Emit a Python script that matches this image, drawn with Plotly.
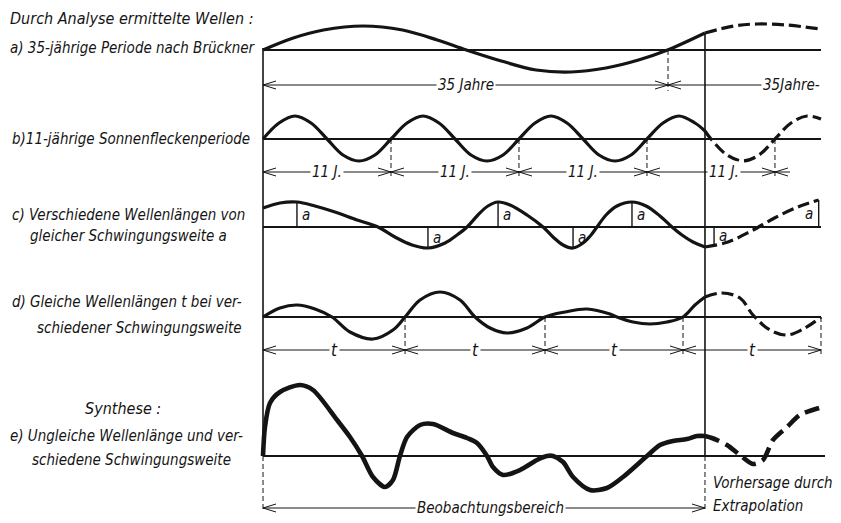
import numpy as np
import plotly.graph_objects as go

# Horizontal positions are years counted from the start of the record;
# wave values are amplitudes above each row's zero line.

# a) 35-year Brückner period
a_years = [0, 2.6, 5.2, 8.6, 12.0, 15.0, 17.5, 20.5, 23.5, 26.5, 29.5, 32.3, 34.8, 38.02]
a_amp = [0, 12, 20, 24, 20, 10, 0, -11, -20, -22, -18, -10, 0, 17]
a_fc_years = [38.02, 40.5, 42.5, 45.0, 48.0]
a_fc_amp = [17, 24, 26, 25, 21]

# b) 11-year sunspot period
b_years = [0, 1.38, 2.75, 4.13, 5.51, 6.88, 8.26, 9.63, 11.01, 12.39, 13.76, 15.14,
           16.52, 17.89, 19.27, 20.65, 22.02, 23.40, 24.77, 26.15, 27.53, 28.90,
           30.28, 31.66, 33.03, 34.41, 35.78, 37.16, 38.02]
b_amp = [0, 16, 23, 16, 0, -16, -22, -16, 0, 16, 23, 16,
         0, -16, -22, -16, 0, 16, 23, 16, 0, -16,
         -22, -16, 0, 16, 23, 16, 8]
b_fc_years = [38.02, 38.54, 39.91, 41.29, 42.67, 44.04, 45.42, 46.80, 48.0]
b_fc_amp = [8, 0, -16, -22, -16, 0, 16, 23, 20]

# c) different wave lengths, equal amplitude a
c_years = [0, 1.46, 2.92, 4.47, 6.19, 8.09, 9.89, 11.35, 12.82, 14.19, 15.66, 16.69,
           17.55, 18.49, 19.35, 20.22, 21.25, 22.71, 24.09, 24.95, 25.81, 26.67,
           27.53, 28.22, 28.73, 29.51, 30.45, 31.74, 32.95, 34.15, 35.18, 36.04,
           36.99, 38.02]
c_amp = [19, 24, 25, 21, 15, 7, 0, -10, -18, -21, -16, -8,
         0, 12, 21, 25, 22, 12, 0, -10, -18, -21,
         -16, -8, 0, 12, 21, 25, 21, 11, 0, -8,
         -15, -20]
c_fc_years = [38.02, 40.0, 42.0, 44.0, 46.0, 47.8]
c_fc_amp = [-20, -15, -4, 9, 20, 27]
c_mark_years = [2.92, 14.19, 20.22, 26.67, 31.74, 38.8, 47.8]

# d) equal wave lengths t, different amplitudes
d_years = [0, 1.46, 2.92, 4.47, 5.94, 7.48, 9.46, 11.18, 12.22, 13.51, 15.23, 16.95,
           18.24, 19.53, 20.99, 22.71, 24.26, 25.98, 27.87, 29.85, 30.45, 31.83,
           33.29, 34.75, 36.13, 37.16, 38.02]
d_amp = [0, 9, 12, 8, 0, -15, -22, -13, 0, 17, 25, 17,
         0, -11, -16, -11, 0, 5, 8, 3, 0, -5,
         -7, -5, 0, 12, 20]
d_fc_years = [38.02, 39.48, 41.03, 42.15, 43.61, 45.08, 46.62, 48.0]
d_fc_amp = [20, 24, 19, 2, -13, -18, -11, 0]

# e) synthesis
e_years = [0, 0.17, 0.60, 1.46, 3.18, 4.30, 6.37, 7.48, 8.52, 9.46, 10.49, 11.18,
           11.78, 12.39, 13.51, 14.62, 16.34, 17.55, 18.41, 19.27, 19.78, 20.65,
           22.11, 23.57, 24.43, 24.95, 25.81, 26.67, 28.13, 29.59, 30.97, 33.03,
           34.15, 35.27, 36.47, 37.33, 38.02]
e_amp = [0, 29, 53, 64, 71, 66, 36, 19, 0, -21, -31, -24,
         0, 19, 31, 32, 23, 18, 13, 0, -11, -19,
         -14, -4, 0, 0, -6, -21, -34, -32, -21, 0,
         11, 15, 17, 20, 20]
e_fc_years = [38.02, 38.62, 39.91, 41.03, 42.15, 43.01, 43.87, 45.08, 46.19, 48.17]
e_fc_amp = [20, 18, 11, 1, -8, -4, 16, 29, 41, 49]

# span divisions
a_marks = [0, 34.84, 48.0]
b_marks = [0, 11.01, 22.02, 33.03, 44.04]
d_marks = [0, 12.22, 24.26, 36.13, 48.0]
obs_end = 38.02
record_end = 48.0

# ---- drawing geometry (pixels on the vertical axis) ----
W, H = 841, 523
X0_PX, PX_PER_YEAR = 263, 11.625
ZERO = {"a": 50, "b": 139, "c": 227, "d": 317, "e": 456}
DIM_Y = {"a": 85, "b": 172, "d": 350, "e": 508}
INK = "#141414"
FONT = "Liberation Sans Narrow, DejaVu Sans Condensed, Arial Narrow, sans-serif"


def yr(px):
    return (px - X0_PX) / PX_PER_YEAR


fig = go.Figure()


def wave(years, amp, row, width, dash=None, smooth=1.0):
    fig.add_trace(go.Scatter(
        x=years, y=[ZERO[row] - v for v in amp], mode="lines",
        line=dict(color=INK, width=width, shape="spline", smoothing=smooth, dash=dash),
        hoverinfo="skip", showlegend=False))


def seg(x0, y0, x1, y1, width=1.0, dash=None):
    fig.add_shape(type="line", xref="x", yref="y", x0=x0, y0=y0, x1=x1, y1=y1,
                  line=dict(color=INK, width=width, dash=dash))


def arrow(tip, y, direction):
    # open chevron arrowhead; direction -1 points left, +1 points right
    L, h = 13 / PX_PER_YEAR, 4
    back = tip - direction * L
    fig.add_shape(type="path", xref="x", yref="y",
                  path=f"M {back},{y - h} L {tip},{y} L {back},{y + h}",
                  line=dict(color=INK, width=1.0))


def label(text, x, y, size=15, anchor="center", bg="white", xref="x"):
    fig.add_annotation(text=text, x=x, y=y, xref=xref, yref="y", showarrow=False,
                       xanchor=anchor, yanchor="middle", bgcolor=bg, borderpad=1,
                       font=dict(family=FONT, size=size, color=INK, style="italic"))


# zero lines of every row
for row in "abcd":
    seg(0, ZERO[row], record_end, ZERO[row], width=1.8)
seg(0, ZERO["e"], yr(825), ZERO["e"], width=1.8)

# frame: start of record and end of the observation window
seg(0, 48, 0, ZERO["e"], width=1.6)
seg(0, ZERO["e"], 0, 512, width=1.0, dash="5px,3px")
seg(obs_end, 33, obs_end, ZERO["e"], width=1.6)
seg(obs_end, ZERO["e"], obs_end, 512, width=1.0, dash="5px,3px")

# waves: observed (solid) and extrapolated (dashed)
wave(a_years, a_amp, "a", 3.2)
wave(a_fc_years, a_fc_amp, "a", 3.2, "12px,5px")
wave(b_years, b_amp, "b", 3.2)
wave(b_fc_years, b_fc_amp, "b", 3.2, "12px,5px")
wave(c_years, c_amp, "c", 3.2)
wave(c_fc_years, c_fc_amp, "c", 3.2, "12px,5px")
wave(d_years, d_amp, "d", 3.2)
wave(d_fc_years, d_fc_amp, "d", 3.2, "12px,5px")
wave(e_years, e_amp, "e", 4.6, smooth=0.8)
wave(e_fc_years, e_fc_amp, "e", 4.6, "15px,7px", smooth=0.8)

# amplitude markers "a" on row c
c_all_years = c_years + c_fc_years[1:]
c_all_amp = c_amp + c_fc_amp[1:]
for i, m in enumerate(c_mark_years):
    v = float(np.interp(m, c_all_years, c_all_amp))
    seg(m, ZERO["c"], m, ZERO["c"] - v, width=1.4)
    mid = ZERO["c"] - v / 2
    if i == len(c_mark_years) - 1:
        label("a", m - 10 / PX_PER_YEAR, mid, size=15, bg="rgba(0,0,0,0)")
    else:
        label("a", m + 9 / PX_PER_YEAR, mid, size=15, bg="rgba(0,0,0,0)")

# extension lines for the dimension spans
seg(a_marks[1], ZERO["a"], a_marks[1], DIM_Y["a"] + 6, width=1.0, dash="5px,3px")
for m in b_marks[1:]:
    seg(m, ZERO["b"], m, DIM_Y["b"] + 6, width=1.0, dash="5px,3px")
for m in d_marks[1:]:
    seg(m, ZERO["d"], m, DIM_Y["d"] + 6, width=1.0, dash="5px,3px")


def span(x0, x1, y, text=None, at=None, left=True, right=True, size=15):
    seg(x0, y, x1, y, width=1.0)
    if left:
        arrow(x0, y, -1)
    if right:
        arrow(x1, y, 1)
    if text:
        label(text, (x0 + x1) / 2 if at is None else at, y, size=size)


span(a_marks[0], a_marks[1], DIM_Y["a"], "35 Jahre")
span(a_marks[1], a_marks[2], DIM_Y["a"], right=False)
label("35Jahre-", yr(822), DIM_Y["a"], anchor="right")

b_label_at = [None, None, None, yr(724)]
for k in range(len(b_marks) - 1):
    span(b_marks[k], b_marks[k + 1], DIM_Y["b"], "11 J.", at=b_label_at[k])
span(b_marks[-1], yr(790), DIM_Y["b"], right=False)

for k in range(len(d_marks) - 1):
    span(d_marks[k], d_marks[k + 1], DIM_Y["d"], "t", size=17)

span(0, obs_end, DIM_Y["e"], "Beobachtungsbereich", at=yr(490))

# row captions on the left
captions = [
    ("Durch Analyse ermittelte Wellen :", 8, 18, 16),
    ("a) 35-jährige Periode nach Brückner", 8, 48, 15),
    ("b)11-jährige Sonnenfleckenperiode", 10, 139, 15),
    ("c) Verschiedene Wellenlängen von", 10, 215, 15),
    ("gleicher Schwingungsweite a", 28, 236, 15),
    ("d) Gleiche Wellenlängen t bei ver-", 10, 302, 15),
    ("schiedener Schwingungsweite", 35, 328, 15),
    ("Synthese :", 83, 408, 16),
    ("e) Ungleiche Wellenlänge und ver-", 8, 436, 15),
    ("schiedene Schwingungsweite", 30, 460, 15),
]
for text, xp, yp, fs in captions:
    label(text, xp / W, yp, size=fs, anchor="left", bg="rgba(0,0,0,0)", xref="paper")

label("Vorhersage durch", yr(711), 483, size=15, anchor="left", bg="rgba(0,0,0,0)")
label("Extrapolation", yr(711), 506, size=15, anchor="left", bg="rgba(0,0,0,0)")

fig.update_layout(
    width=W, height=H, margin=dict(l=0, r=0, t=0, b=0),
    paper_bgcolor="white", plot_bgcolor="white",
    xaxis=dict(range=[yr(0), yr(W)], visible=False, fixedrange=True),
    yaxis=dict(range=[H, 0], visible=False, fixedrange=True),
    showlegend=False, hovermode=False,
)

fig.write_html("out.html")
